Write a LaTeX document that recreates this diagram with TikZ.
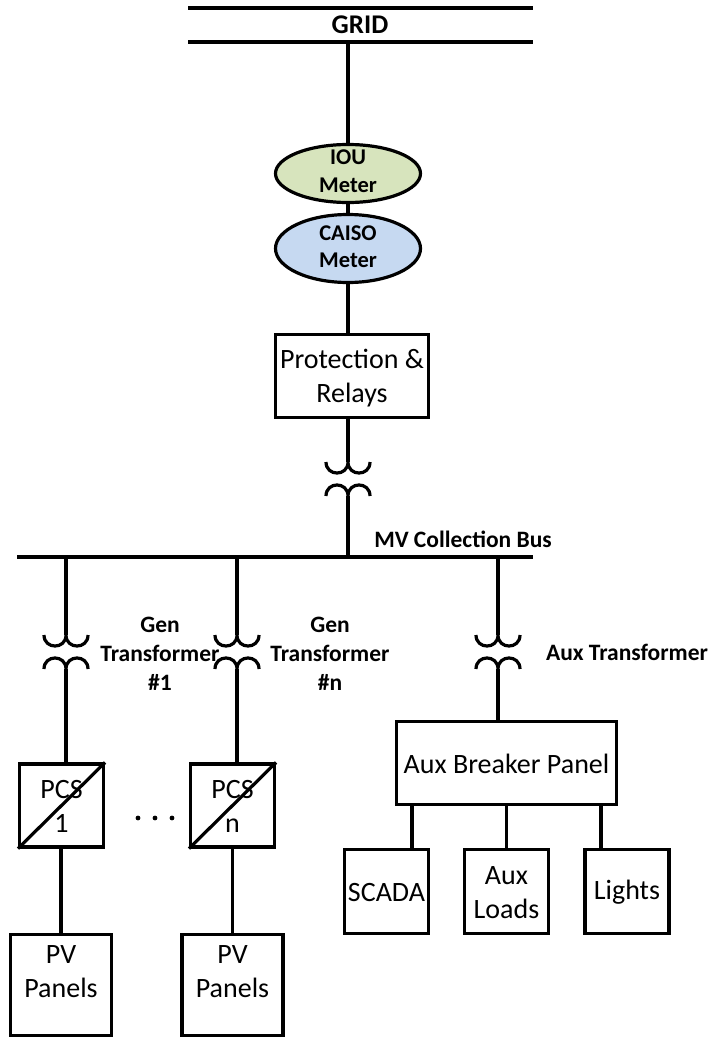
\documentclass[tikz,border=0pt]{standalone}
\usepackage{fontspec}
\setmainfont{Carlito}
\usetikzlibrary{shapes.geometric,calc}
\tikzset{
  wire/.style={line width=3.2pt},
  box/.style={draw, line width=3.2pt, inner sep=0pt, rectangle},
  oval/.style={draw, line width=3.2pt, inner sep=0pt, ellipse},
  body/.style={font=\fontsize{28}{34}\selectfont, align=center, inner sep=0pt},
  lbl/.style={font=\bfseries\fontsize{23.5}{29}\selectfont, align=center, inner sep=0pt},
  meter/.style={font=\bfseries\fontsize{22.5}{27.5}\selectfont, align=center, inner sep=0pt},
  xfmr/.pic={
    \draw[wire] (-22,0) .. controls (-22,14.7) and (0,14.7) .. (0,0)
                        .. controls (0,14.7) and (22,14.7) .. (22,0);
    \draw[wire] (-22,34) .. controls (-22,19.3) and (0,19.3) .. (0,34)
                         .. controls (0,19.3) and (22,19.3) .. (22,34);
  }
}
\begin{document}
\begin{tikzpicture}[x=1pt,y=-1pt]
\useasboundingbox (0,0) rectangle (712,1039);
% GRID bus
\coordinate (gridTL) at (188,8);
\coordinate (gridTR) at (533,8);
\coordinate (gridBL) at (188,42);
\coordinate (gridBR) at (533,42);
\draw[wire] (gridTL) -- (gridTR);
\draw[wire] (gridBL) -- (gridBR);
\node[font=\bfseries\fontsize{27}{32}\selectfont, inner sep=0pt] (grid) at (360,25) {GRID};
% meters
\node[oval, fill={rgb,255:red,215;green,228;blue,189}, minimum width=145pt, minimum height=58pt] (iou) at (348,173.5) {};
\node[meter] (ioutxt) at (348,171) {IOU\\Meter};
\node[oval, fill={rgb,255:red,198;green,217;blue,241}, minimum width=145pt, minimum height=68pt] (caiso) at (348,248.5) {};
\node[meter] (caisotxt) at (348,246.5) {CAISO\\Meter};
\draw[wire] (iou.north |- gridBL) -- (iou.north);
\draw[wire] (iou.south) -- (caiso.north);
% protection
\node[box, minimum width=153pt, minimum height=83pt] (prot) at (352,376) {};
\node[body] (prottxt) at (352,378) {Protection \&\\Relays};
\draw[wire] (caiso.south) -- (caiso.south |- prot.north);
% main transformer
\coordinate (t0) at (348,462);
\coordinate (t0b) at (348,496);
\pic at (t0) {xfmr};
\draw[wire] (t0 |- prot.south) -- (t0);
% MV bus
\coordinate (busL) at (17,557);
\coordinate (busR) at (533,557);
\draw[wire] (busL) -- (busR);
\draw[wire] (t0b) -- (t0b |- busL);
\node[lbl] (mvlbl) at (463,539) {MV Collection Bus};
% branch transformers
\coordinate (t1) at (66,635);
\coordinate (t1b) at (66,669);
\coordinate (tn) at (237,635);
\coordinate (tnb) at (237,669);
\coordinate (ta) at (498,635);
\coordinate (tab) at (498,669);
\pic at (t1) {xfmr};
\pic at (tn) {xfmr};
\pic at (ta) {xfmr};
\draw[wire] (t1 |- busL) -- (t1);
\draw[wire] (tn |- busL) -- (tn);
\draw[wire] (ta |- busL) -- (ta);
\node[lbl] (g1lbl) at (160,654) {Gen\\Transformer\\\#1};
\node[lbl] (gnlbl) at (330,654) {Gen\\Transformer\\\#n};
\node[lbl] (alb) at (627,652) {Aux Transformer};
% PCS
\node[box, minimum width=84pt, minimum height=83pt] (pcs1) at (61.5,805.5) {};
\node[box, minimum width=84pt, minimum height=83pt] (pcsn) at (232.5,805.5) {};
\draw[wire] (pcs1.south west) -- (pcs1.north east);
\draw[wire] (pcsn.south west) -- (pcsn.north east);
\node[body] (pcs1txt) at (61.5,806) {PCS\\1};
\node[body] (pcsntxt) at (232.5,806) {PCS\\n};
\draw[wire] (t1b) -- (t1b |- pcs1.north);
\draw[wire] (tnb) -- (tnb |- pcsn.north);
\fill (138,818) circle (2.4pt);
\fill (155,818) circle (2.4pt);
\fill (172,818) circle (2.4pt);
% PV panels
\node[box, minimum width=101pt, minimum height=101pt] (pv1) at (61,985) {};
\node[box, minimum width=101pt, minimum height=101pt] (pvn) at (232.5,985) {};
\node[body] (pv1txt) at ($(pv1.center)+(0,-13)$) {PV\\Panels};
\node[body] (pvntxt) at ($(pvn.center)+(0,-13)$) {PV\\Panels};
\draw[wire] (pv1.north |- pcs1.south) -- (pv1.north);
\draw[wire] (pvn.north |- pcsn.south) -- (pvn.north);
% Aux side
\node[box, minimum width=220pt, minimum height=83pt] (abp) at (506.5,763) {};
\node[body] (abptxt) at (506.5,764) {Aux Breaker Panel};
\draw[wire] (tab) -- (tab |- abp.north);
\node[box, minimum width=84pt, minimum height=84pt] (scada) at (386.5,891.5) {};
\node[box, minimum width=84pt, minimum height=84pt] (auxl) at (506.5,891.5) {};
\node[box, minimum width=84pt, minimum height=84pt] (lights) at (627,891.5) {};
\node[body] (scadatxt) at (386.5,892) {SCADA};
\node[body] (auxltxt) at (506.5,893) {Aux\\Loads};
\node[body] (lightstxt) at (627,892) {Lights};
\draw[wire] ([xshift=25.5pt]scada.north |- abp.south) -- ([xshift=25.5pt]scada.north);
\draw[wire] (auxl.north |- abp.south) -- (auxl.north);
\draw[wire] ([xshift=-26pt]lights.north |- abp.south) -- ([xshift=-26pt]lights.north);
\end{tikzpicture}
\end{document}
